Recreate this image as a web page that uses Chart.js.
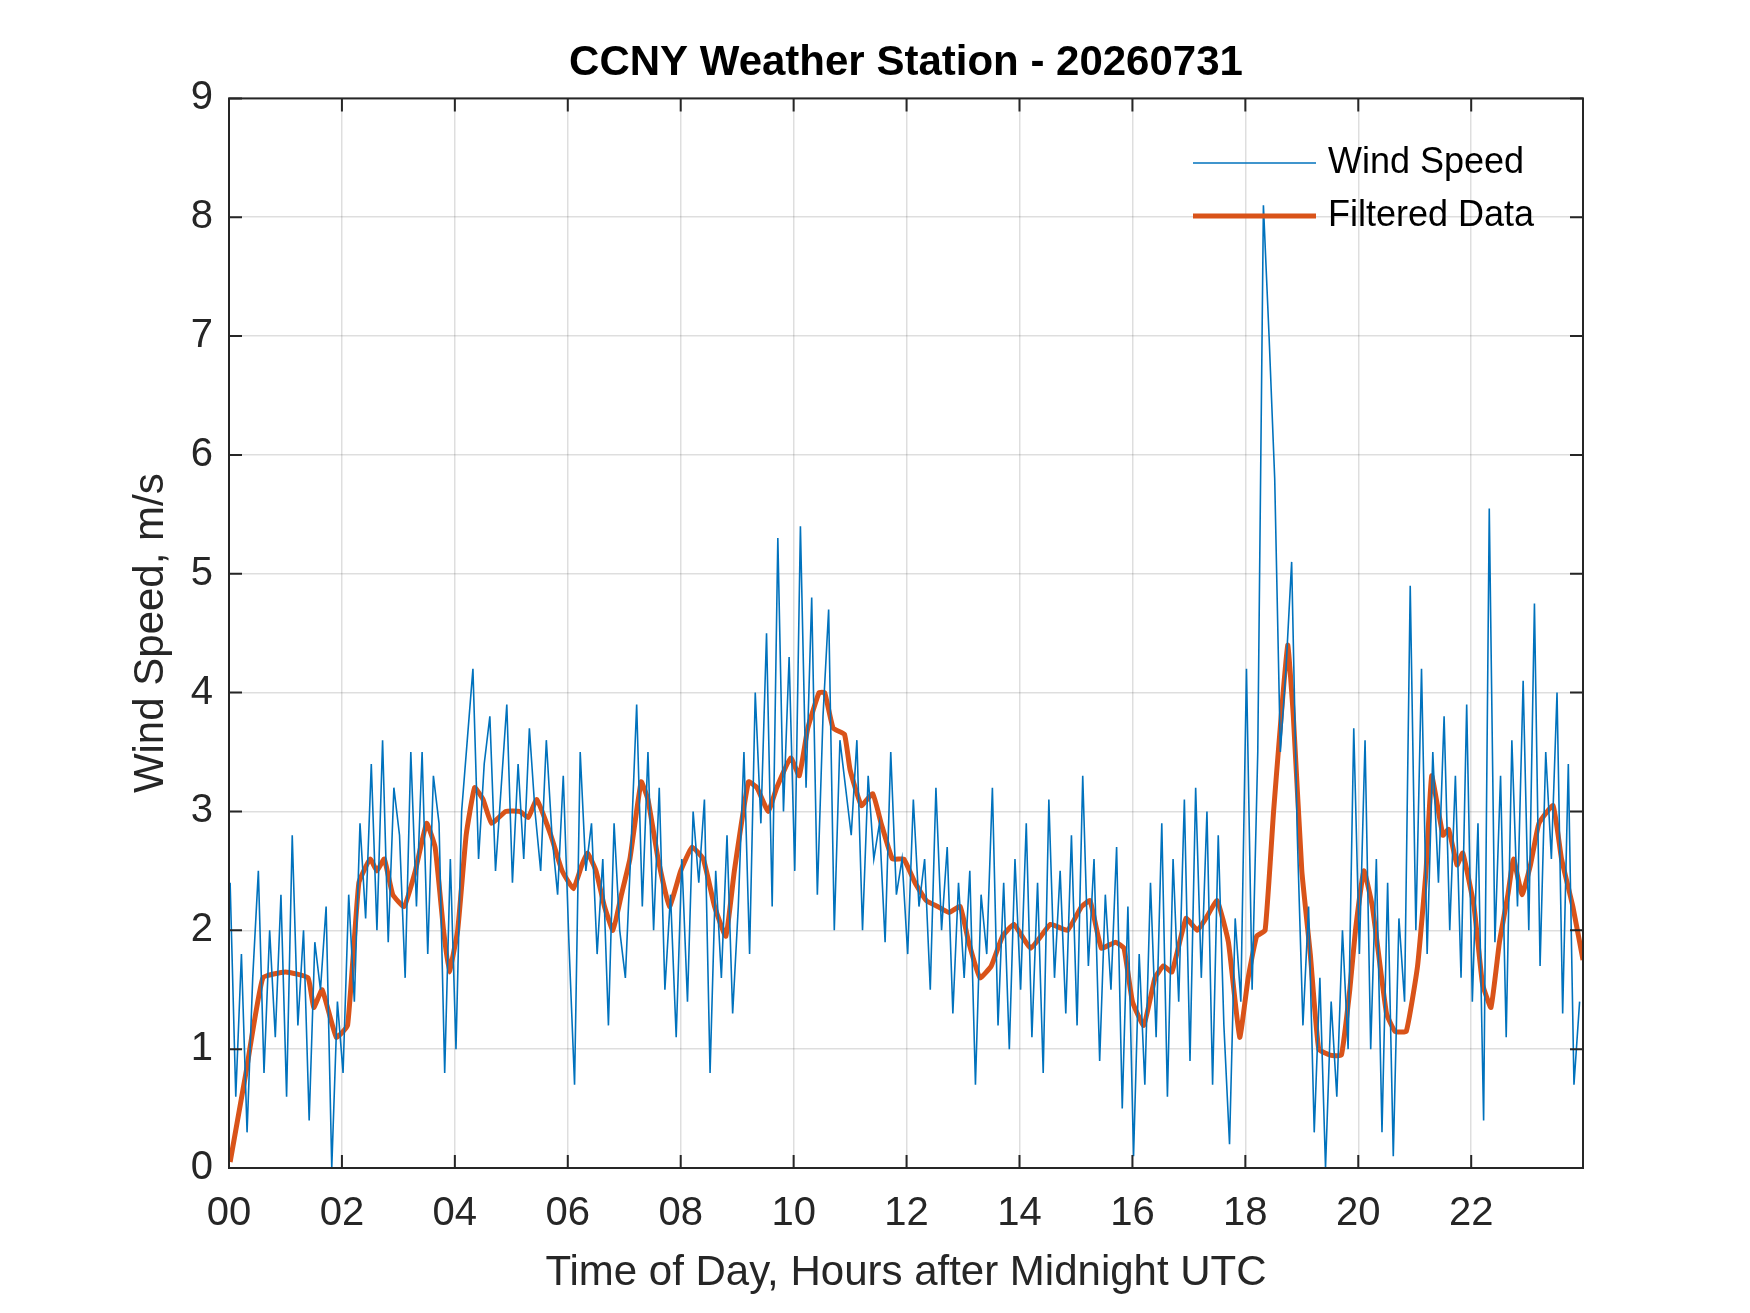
<!DOCTYPE html>
<html><head><meta charset="utf-8">
<script src="https://cdn.jsdelivr.net/npm/chart.js@4"></script>
<style>html,body{margin:0;padding:0;background:#fff}#wrap{width:1750px;height:1313px}</style>
</head><body><div id="wrap"><canvas id="c" width="1750" height="1313"></canvas></div>
<script>
const title = "CCNY Weather Station - 20260731";
const xLabel = "Time of Day, Hours after Midnight UTC";
const yLabel = "Wind Speed, m/s";
const seriesNames = ["Wind Speed", "Filtered Data"];
const xTicks = [0,2,4,6,8,10,12,14,16,18,20,22];
const windStep = 0.1;
const windSpeed = [
2.4,0.6,1.8,0.3,1.6,2.5,0.8,2.0,1.1,2.3,
0.6,2.8,1.2,2.0,0.4,1.9,1.5,2.2,0.0,1.4,
0.8,2.3,1.4,2.9,2.1,3.4,2.0,3.6,1.9,3.2,
2.8,1.6,3.5,2.2,3.5,1.8,3.3,2.9,0.8,2.6,
1.0,3.0,3.6,4.2,2.6,3.4,3.8,2.5,3.2,3.9,
2.4,3.4,2.6,3.7,3.0,2.5,3.6,2.8,2.3,3.3,
1.9,0.7,3.5,2.5,2.9,1.8,2.6,1.2,2.9,2.0,
1.6,2.7,3.9,2.2,3.5,2.0,3.2,1.5,2.3,1.1,
2.6,1.4,3.0,2.4,3.1,0.8,2.5,1.6,2.8,1.3,
2.2,3.5,1.8,4.0,2.9,4.5,2.2,5.3,3.0,4.3,
2.5,5.4,3.2,4.8,2.3,3.8,4.7,2.0,3.6,3.2,
2.8,3.6,2.0,3.3,2.6,2.9,1.9,3.5,2.3,2.6,
1.8,3.1,2.2,2.6,1.5,3.2,2.0,2.7,1.3,2.4,
1.6,2.5,0.7,2.3,1.8,3.2,1.2,2.4,1.0,2.6,
1.5,2.9,1.1,2.4,0.8,3.1,1.6,2.5,1.3,2.8,
1.2,3.3,1.7,2.6,0.9,2.3,1.5,2.7,0.5,2.2,
0.1,1.8,0.7,2.4,1.1,2.9,0.6,2.6,1.4,3.1,
0.9,3.2,1.6,3.0,0.7,2.8,1.2,0.2,2.1,1.4,
4.2,1.5,3.5,8.1,7.0,5.8,3.5,4.2,5.1,2.8,
1.2,2.2,0.3,1.6,0.0,1.4,0.6,2.0,1.0,3.7,
1.8,3.6,1.0,2.6,0.3,2.4,0.1,2.1,1.4,4.9,
2.0,4.2,1.8,3.5,2.4,3.8,2.0,3.3,1.6,3.9,
1.4,2.9,0.4,5.55,1.9,3.3,1.1,3.6,2.2,4.1,
2.0,4.75,1.7,3.5,2.6,4.0,1.3,3.4,0.7,1.4];
const filtHours = [0.02,0.3,0.6,1.0,1.4,1.5,1.65,1.9,2.1,2.3,2.5,2.62,2.75,2.9,3.1,3.3,3.5,3.65,3.8,3.9,4.05,4.2,4.35,4.5,4.65,4.9,5.15,5.3,5.45,5.7,5.9,6.1,6.25,6.35,6.5,6.65,6.8,6.95,7.1,7.3,7.42,7.6,7.8,8.0,8.2,8.4,8.6,8.8,8.95,9.2,9.35,9.55,9.7,9.95,10.1,10.25,10.45,10.55,10.7,10.9,11.0,11.2,11.4,11.55,11.75,11.95,12.15,12.35,12.55,12.75,12.95,13.1,13.3,13.5,13.7,13.9,14.2,14.55,14.85,15.1,15.25,15.45,15.7,15.85,16.0,16.2,16.4,16.55,16.7,16.95,17.15,17.3,17.5,17.7,17.9,18.05,18.2,18.35,18.5,18.6,18.75,18.85,19.0,19.15,19.3,19.5,19.7,19.85,19.95,20.1,20.25,20.5,20.65,20.85,21.05,21.2,21.3,21.5,21.6,21.75,21.85,22.05,22.2,22.35,22.5,22.65,22.75,22.9,23.05,23.2,23.45,23.6,23.8,23.98];
const filtVals = [0.05,0.8,1.6,1.65,1.6,1.35,1.5,1.1,1.2,2.4,2.6,2.5,2.6,2.3,2.2,2.5,2.9,2.7,2.0,1.65,2.0,2.8,3.2,3.1,2.9,3.0,3.0,2.95,3.1,2.8,2.5,2.35,2.55,2.65,2.5,2.2,2.0,2.3,2.6,3.25,3.1,2.6,2.2,2.5,2.7,2.6,2.2,1.95,2.5,3.25,3.2,3.0,3.2,3.45,3.3,3.7,4.0,4.0,3.7,3.65,3.35,3.05,3.15,2.9,2.6,2.6,2.4,2.25,2.2,2.15,2.2,1.9,1.6,1.7,1.95,2.05,1.85,2.05,2.0,2.2,2.25,1.85,1.9,1.85,1.4,1.2,1.6,1.7,1.65,2.1,2.0,2.1,2.25,1.9,1.1,1.6,1.95,2.0,3.0,3.6,4.4,3.8,2.5,1.8,1.0,0.95,0.95,1.5,2.0,2.5,2.2,1.3,1.15,1.15,1.7,2.5,3.3,2.8,2.85,2.55,2.65,2.2,1.55,1.35,1.9,2.3,2.6,2.3,2.55,2.9,3.05,2.6,2.2,1.75];

const windData = windSpeed.map((v,i)=>({x:i*windStep+0.02,y:v}));
const filtData = filtHours.map((h,i)=>({x:h,y:filtVals[i]}));
const FONT = "'Liberation Sans', Arial, sans-serif";
const AX = '#262626';

const framePlugin = {
  id:'frame',
  afterDatasetsDraw(chart){
    const {ctx, chartArea:a, scales:{x,y}} = chart;
    ctx.save();
    ctx.strokeStyle = AX; ctx.lineWidth = 2;
    ctx.strokeRect(a.left, a.top, a.right-a.left, a.bottom-a.top);
    const L = 13;
    ctx.beginPath();
    xTicks.forEach(t=>{const px=x.getPixelForValue(t);
      ctx.moveTo(px,a.bottom);ctx.lineTo(px,a.bottom-L);ctx.moveTo(px,a.top);ctx.lineTo(px,a.top+L);});
    for(let v=0;v<=9;v++){const py=y.getPixelForValue(v);
      ctx.moveTo(a.left,py);ctx.lineTo(a.left+L,py);ctx.moveTo(a.right,py);ctx.lineTo(a.right-L,py);}
    ctx.stroke();
    const lx1=1193, lx2=1316, ty=[163,216];
    ctx.font = "36px "+FONT; ctx.fillStyle='#000'; ctx.textBaseline='middle';
    chart.data.datasets.forEach((d,i)=>{
      ctx.strokeStyle=d.borderColor; ctx.lineWidth=d.borderWidth;
      ctx.beginPath();ctx.moveTo(lx1,ty[i]);ctx.lineTo(lx2,ty[i]);ctx.stroke();
      ctx.fillText(d.label, 1328, ty[i]);
    });
    ctx.restore();
  }
};

new Chart(document.getElementById('c'),{
  type:'line',
  data:{datasets:[
    {label:seriesNames[0],data:windData,borderColor:'#0072BD',borderWidth:1.6,pointRadius:0,tension:0},
    {label:seriesNames[1],data:filtData,borderColor:'#D95319',borderWidth:5,pointRadius:0,tension:0.12}
  ]},
  options:{
    responsive:false,animation:false,
    layout:{padding:{left:122,right:167,top:0,bottom:0}},
    plugins:{legend:{display:false},tooltip:{enabled:false},
      title:{display:true,text:title,fullSize:false,color:'#000',font:{family:FONT,size:42,weight:'bold'},padding:{top:38,bottom:10}}},
    scales:{
      x:{type:'linear',min:0,max:23.98,
        afterBuildTicks(s){s.ticks=xTicks.map(v=>({value:v}));},
        afterFit(s){s.height=145;},
        grid:{color:'rgba(0,0,0,0.13)',lineWidth:1.5,drawTicks:false},border:{display:false},
        ticks:{color:AX,font:{family:FONT,size:40},padding:22,maxRotation:0,autoSkip:false,
          callback:v=>String(v).padStart(2,'0')},
        title:{display:true,text:xLabel,color:AX,font:{family:FONT,size:42},padding:{top:4,bottom:14}}},
      y:{min:0,max:9,
        afterFit(s){s.width=107;},
        grid:{color:'rgba(0,0,0,0.13)',lineWidth:1.5,drawTicks:false},border:{display:false},
        ticks:{stepSize:1,color:AX,font:{family:FONT,size:40},padding:16},
        title:{display:true,text:yLabel,color:AX,font:{family:FONT,size:42},padding:{bottom:4}}}
    }
  },
  plugins:[framePlugin]
});
</script></body></html>
